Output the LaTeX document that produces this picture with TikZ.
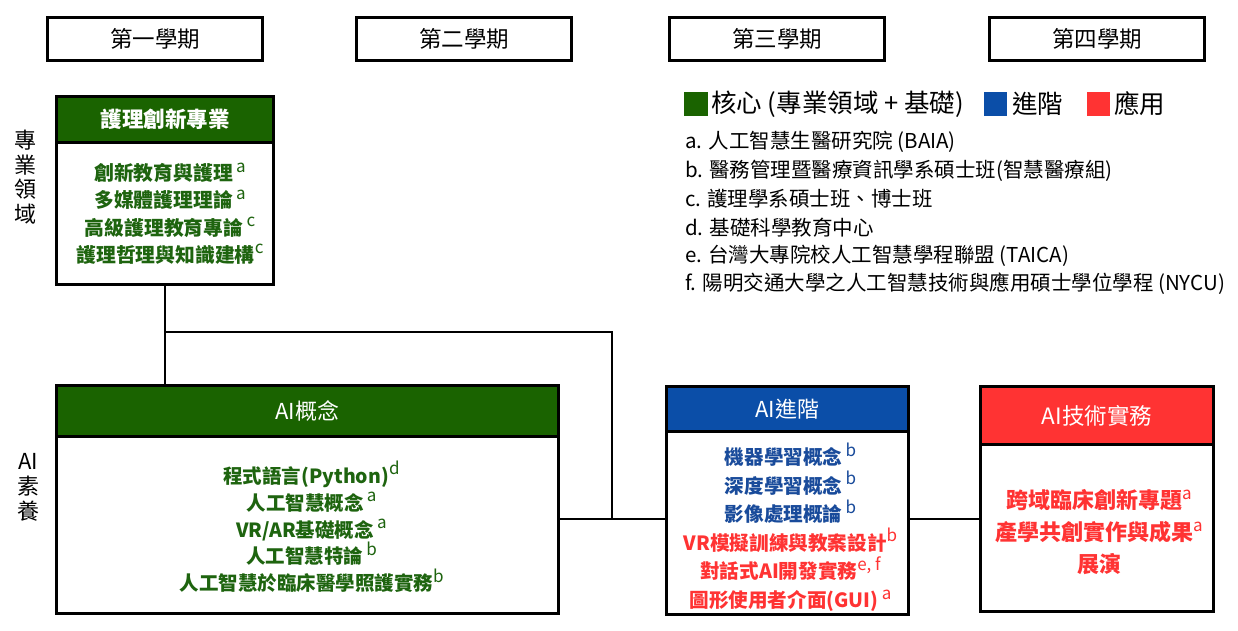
\documentclass[tikz,border=0pt]{standalone}
\usepackage{fontspec}
\setmainfont{Noto Sans CJK TC}
\usetikzlibrary{calc}
\definecolor{cgreen}{RGB}{26,99,0}
\definecolor{tgreen}{RGB}{30,100,15}
\definecolor{cblue}{RGB}{11,78,168}
\definecolor{tblue}{RGB}{25,75,155}
\definecolor{cred}{RGB}{255,51,51}
\newcommand{\fs}[2]{\fontsize{#1}{#2}\selectfont}
\newcommand{\sups}[1]{{\mdseries\fs{17}{17}\raisebox{8.5pt}{#1}}}
\begin{document}
\begin{tikzpicture}[x=1pt,y=-1pt,
  sem/.style={draw, line width=2.5pt, minimum width=215pt, minimum height=43pt, inner sep=0pt, font=\fs{22.5}{22.5}},
  hdr/.style={draw, line width=3pt, anchor=north west, text=white, inner sep=0pt},
  bodybox/.style={draw, line width=3pt, anchor=north west, fill=white, inner sep=0pt},
  conn/.style={line width=2pt},
  legtxt/.style={anchor=west, inner sep=0pt, font=\fs{20.5}{20.5}},
  keytxt/.style={anchor=west, inner sep=0pt, font=\fs{25.5}{25.5}}]
\useasboundingbox (0,0) rectangle (1238,631);
% semesters
\node[sem] (s1) at (155,39) {第一學期};
\node[sem] (s2) at (464,39) {第二學期};
\node[sem] (s3) at (777,39) {第三學期};
\node[sem] (s4) at (1097,39) {第四學期};
% side labels
\node[align=center, inner sep=0pt, font=\fs{22}{24.5}] (side1) at (25,177) {專\\業\\領\\域};
\node[align=center, inner sep=0pt, font=\fs{22}{25}] (side2) at (28,487) {AI\\素\\養};
% nursing box
\node[hdr, fill=cgreen, minimum width=217pt, minimum height=46pt, font=\bfseries\fs{21.5}{21.5}] (nh) at (55,95) {護理創新專業};
\node[bodybox, minimum width=217pt, minimum height=142pt] (nb) at (55,141) {};
\node[text=tgreen, align=center, inner sep=0pt, font=\bfseries\fs{19.8}{27.3}] (nt) at ($(nb.center)+(5,0)$)
  {創新教育與護理\,\sups{a}\\多媒體護理理論\,\sups{a}\\高級護理教育專論\,\sups{c}\\護理哲理與知識建構\sups{c}};
% AI concept
\node[hdr, fill=cgreen, minimum width=502pt, minimum height=51pt, font=\fs{22}{22}] (ah) at (55,384) {AI概念};
\node[bodybox, minimum width=502pt, minimum height=177pt] (ab) at (55,435) {};
\node[text=tgreen, align=center, inner sep=0pt, font=\bfseries\fs{19.5}{26.8}] (at) at ($(ab.center)+(4,2)$)
  {程式語言(Python)\sups{d}\\人工智慧概念\,\sups{a}\\VR/AR基礎概念\,\sups{a}\\人工智慧特論\,\sups{b}\\人工智慧於臨床醫學照護實務\sups{b}};
% AI advanced
\node[hdr, fill=cblue, minimum width=242pt, minimum height=45pt, font=\fs{22}{22}] (vh) at (665,385) {AI進階};
\node[bodybox, minimum width=242pt, minimum height=183pt] (vb) at (665,430) {};
\node[align=center, inner sep=0pt, font=\bfseries\fs{19.6}{28.6}] (vt) at ($(vb.center)+(3,4)$)
  {\textcolor{tblue}{機器學習概念\,\sups{b}}\\\textcolor{tblue}{深度學習概念\,\sups{b}}\\\textcolor{tblue}{影像處理概論\,\sups{b}}\\
   \textcolor{cred}{VR模擬訓練與教案設計\sups{b}}\\\textcolor{cred}{對話式AI開發實務\sups{e, f}}\\\textcolor{cred}{圖形使用者介面(GUI)\,\sups{a}}};
% AI practice
\node[hdr, fill=cred, minimum width=233pt, minimum height=58pt, font=\fs{22.5}{22.5}] (th) at (979,385) {AI技術實務};
\node[bodybox, minimum width=233pt, minimum height=167pt] (tb) at (979,443) {};
\node[text=cred, align=center, inner sep=0pt, font=\bfseries\fs{22}{32}] (tt) at ($(tb.center)+(2,4)$)
  {跨域臨床創新專題\sups{a}\\產學共創實作與成果\sups{a}\\展演};
% connectors
\coordinate (yline) at (0,332);
\coordinate (ymid) at (0,519);
\coordinate (xmid) at (612,0);
\draw[conn] (nb.south) -- (nb.south |- ah.north);
\draw[conn] (nb.south |- yline) -- (xmid |- yline) -- (xmid |- ymid);
\draw[conn] (ab.east |- ymid) -- (vb.west |- ymid);
\draw[conn] (vb.east |- ymid) -- (tb.west |- ymid);
% legend keys
\fill[cgreen] (684,92) rectangle (708,116);
\node[keytxt] (k1) at (711,104) {核心 (專業領域 + 基礎)};
\fill[cblue] (984,92) rectangle (1007,116);
\node[keytxt] (k2) at (1012,104) {進階};
\fill[cred] (1087,92) rectangle (1110,116);
\node[keytxt] (k3) at (1114,104) {應用};
% legend list
\node[legtxt] (la) at (685,142) {a. 人工智慧生醫研究院 (BAIA)};
\node[legtxt] (lb) at (685,171) {b. 醫務管理暨醫療資訊學系碩士班(智慧醫療組)};
\node[legtxt] (lc) at (685,199) {c. 護理學系碩士班、博士班};
\node[legtxt] (ld) at (685,228) {d. 基礎科學教育中心};
\node[legtxt] (le) at (685,256) {e. 台灣大專院校人工智慧學程聯盟 (TAICA)};
\node[legtxt] (lf) at (685,284) {f. 陽明交通大學之人工智慧技術與應用碩士學位學程 (NYCU)};
\end{tikzpicture}
\end{document}
